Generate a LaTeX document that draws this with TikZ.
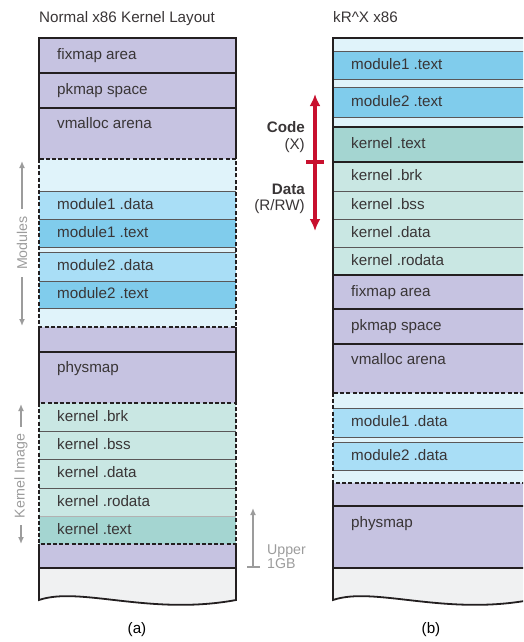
\documentclass[tikz,border=0pt]{standalone}
\usepackage{fontspec}
\setmainfont{Liberation Sans}
\usetikzlibrary{arrows.meta}
\definecolor{heap}{HTML}{C6C3E1}
\definecolor{modpad}{HTML}{E0F3FA}
\definecolor{moddata}{HTML}{A9DEF6}
\definecolor{modtext}{HTML}{80CCEC}
\definecolor{kdata}{HTML}{C9E7E3}
\definecolor{ktext}{HTML}{A4D5D1}
\definecolor{tailc}{HTML}{F0F1F2}
\definecolor{linec}{HTML}{231F20}
\definecolor{annot}{HTML}{9C9C9C}
\definecolor{xred}{HTML}{C8102E}
\tikzset{
  seg/.style={anchor=mid west, inner sep=0pt, yshift=-1.5pt, text=linec!90, font=\fontsize{15.2}{17}\selectfont},
  sep/.style={line width=1.8pt, draw=linec},
  thinsep/.style={line width=0.9pt, draw=linec!75},
  edge/.style={line width=1.8pt, draw=linec},
  dashbox/.style={line width=1.6pt, draw=linec, dash pattern=on 4pt off 2.2pt},
  note/.style={inner sep=0pt, inner xsep=7pt, text=annot, font=\fontsize{14.2}{14}\selectfont},
  notearrow/.style={line width=2pt, draw=annot, -{Latex[length=7pt,width=6pt]}},
  lbl/.style={anchor=mid east, inner sep=0pt, yshift=-1.5pt, text=linec!90, font=\fontsize{15.2}{17}\selectfont}
}
\begin{document}
\begin{tikzpicture}[x=1pt,y=-1pt]
\useasboundingbox (0,0) rectangle (523,642);
\clip (0,0) rectangle (523,642);

% (a) normal layout
\fill[heap] (39,38) rectangle (236,159);
\fill[modpad] (39,159) rectangle (236,327);
\fill[moddata] (39,191) rectangle (236,219);
\fill[modtext] (39,219) rectangle (236,247);
\fill[moddata] (39,252) rectangle (236,281);
\fill[modtext] (39,281) rectangle (236,308);
\fill[heap] (39,327) rectangle (236,403);
\fill[kdata] (39,403) rectangle (236,516);
\fill[ktext] (39,516) rectangle (236,544);
\fill[heap] (39,544) rectangle (236,568);
\fill[tailc] (39,568) -- (39,600) .. controls (80,586) and (150,616) .. (236,600) -- (236,568) -- cycle;

\foreach \y in {73,108,352,568} \draw[sep] (39,\y) -- (236,\y);
\foreach \y in {191,219,247,252,281,308,431,459,488} \draw[thinsep] (39,\y) -- (236,\y);
\draw[line width=0.6pt, draw=linec!35] (39,516) -- (236,516);
\draw[dashbox] (39,159) rectangle (236,327);
\draw[dashbox] (39,403) rectangle (236,544);
\draw[edge] (39,159) -- (39,38) -- (236,38) -- (236,159);
\draw[edge] (39,327) -- (39,403) (236,327) -- (236,403);
\draw[edge] (39,544) -- (39,600) .. controls (80,586) and (150,616) .. (236,600) -- (236,544);

\node[seg] (fixa) at (57,55.5) {fixmap area};
\node[seg] (pkma) at (57,90.5) {pkmap space};
\node[seg] (vmaa) at (57,124) {vmalloc arena};
\node[seg] (m1da) at (57,205) {module1 .data};
\node[seg] (m1ta) at (57,233) {module1 .text};
\node[seg] (m2da) at (57,266.5) {module2 .data};
\node[seg] (m2ta) at (57,294.5) {module2 .text};
\node[seg] (phya) at (57,368) {physmap};
\node[seg] (brka) at (57,417) {kernel .brk};
\node[seg] (bssa) at (57,445) {kernel .bss};
\node[seg] (data) at (57,473.5) {kernel .data};
\node[seg] (roda) at (57,502) {kernel .rodata};
\node[seg] (txta) at (57,530) {kernel .text};

% (b) kR^X layout
\fill[modpad] (333,38) rectangle (540,127);
\fill[modtext] (333,51) rectangle (540,79);
\fill[modtext] (333,87) rectangle (540,117);
\fill[ktext] (333,127) rectangle (540,162);
\fill[kdata] (333,162) rectangle (540,275);
\fill[heap] (333,275) rectangle (540,393);
\fill[modpad] (333,393) rectangle (540,483);
\fill[moddata] (333,408) rectangle (540,437);
\fill[moddata] (333,442) rectangle (540,470);
\fill[heap] (333,483) rectangle (540,568);
\fill[tailc] (333,568) -- (333,600) .. controls (374,586) and (444,616) .. (530,600) -- (530,568) -- cycle;

\foreach \y in {127,162,275,309,344,506,568} \draw[sep] (333,\y) -- (540,\y);
\foreach \y in {51,79,87,117,191,219,247,408,437,442,470} \draw[thinsep] (333,\y) -- (540,\y);
\draw[dashbox] (333,393) rectangle (540,483);
\draw[edge] (333,393) -- (333,38) -- (540,38);
\draw[edge] (333,483) -- (333,600) .. controls (374,586) and (444,616) .. (530,600);

\node[seg] (m1tb) at (351,65) {module1 .text};
\node[seg] (m2tb) at (351,102) {module2 .text};
\node[seg] (txtb) at (351,144.5) {kernel .text};
\node[seg] (brkb) at (351,176.5) {kernel .brk};
\node[seg] (bssb) at (351,205) {kernel .bss};
\node[seg] (datb) at (351,233) {kernel .data};
\node[seg] (rodb) at (351,261) {kernel .rodata};
\node[seg] (fixb) at (351,292) {fixmap area};
\node[seg] (pkmb) at (351,326.5) {pkmap space};
\node[seg] (vmab) at (351,360) {vmalloc arena};
\node[seg] (m1db) at (351,422.5) {module1 .data};
\node[seg] (m2db) at (351,456) {module2 .data};
\node[seg] (phyb) at (351,523) {physmap};

% side notes
\node[note, rotate=90] (modlbl) at (22,243) {Modules};
\coordinate (modtop) at (22,161);
\coordinate (modbot) at (22,326);
\draw[notearrow] (modlbl.east) -- (modtop);
\draw[notearrow] (modlbl.west) -- (modbot);

\node[note, rotate=90] (kimlbl) at (21,476) {Kernel Image};
\coordinate (kimtop) at (21,404);
\coordinate (kimbot) at (21,544);
\draw[notearrow] (kimlbl.east) -- (kimtop);
\draw[notearrow] (kimlbl.west) -- (kimbot);

\coordinate (upbase) at (253,568);
\coordinate (uptop) at (253,508);
\draw[notearrow, {Bar[width=13pt]}-{Latex[length=7pt,width=6pt]}] (upbase) -- (uptop);
\node[note, anchor=west, align=left, inner xsep=0pt] (uplbl) at (267,557) {Upper\\1GB};

\coordinate (codetop) at (315,94);
\coordinate (databot) at (315,231);
\coordinate (splitl) at (306,162);
\coordinate (splitr) at (324,162);
\draw[line width=3.2pt, draw=xred, {Latex[length=12pt,width=11pt]}-{Latex[length=12pt,width=11pt]}] (codetop) -- (databot);
\draw[line width=3.2pt, draw=xred] (splitl) -- (splitr);
\node[lbl, font=\fontsize{15.2}{17}\selectfont\bfseries] (codelbl) at (305,128) {Code};
\node[lbl] (xlbl) at (305,145) {(X)};
\node[lbl, font=\fontsize{15.2}{17}\selectfont\bfseries] (datalbl) at (305,190) {Data};
\node[lbl] (rwlbl) at (305,206) {(R/RW)};

% titles
\node[seg] (titlea) at (39,18) {Normal x86 Kernel Layout};
\node[seg] (titleb) at (333,18) {kR\^{}X x86};
\node[inner sep=0pt, font=\fontsize{15.2}{17}\selectfont] (capa) at (137,630) {(a)};
\node[inner sep=0pt, font=\fontsize{15.2}{17}\selectfont] (capb) at (431,630) {(b)};
\end{tikzpicture}
\end{document}
